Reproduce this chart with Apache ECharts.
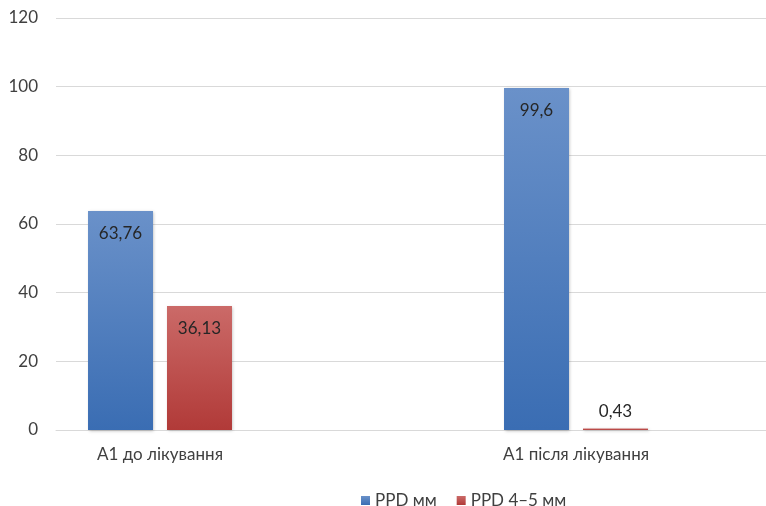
<!DOCTYPE html>
<html>
<head>
<meta charset="utf-8">
<script src="https://cdn.jsdelivr.net/npm/echarts@6/dist/echarts.min.js"></script>
<style>
  html, body { margin: 0; padding: 0; background: #fff; overflow: hidden; width: 766px; height: 506px; }
  /* the chart is wider than the window; its right part falls outside the view */
  #chart { width: 900px; height: 506px; }
</style>
</head>
<body>
<div id="chart"></div>
<script>
// Categories (blank slots hold no data)
const categories = ['A1 до лікування', '', 'A1 після лікування', ''];
const seriesNames = ['PPD мм', 'PPD 4–5 мм'];
const ppdMm = [63.76, null, 99.6, null];
const ppd45Mm = [36.13, null, 0.43, null];
const yTicks = { min: 0, max: 120, interval: 20 };

const FONT = 'Lato, "Noto Sans", sans-serif';

function grad(top, bottom) {
  return new echarts.graphic.LinearGradient(0, 0, 0, 1, [
    { offset: 0, color: top },
    { offset: 1, color: bottom }
  ]);
}

// Value labels sit inside the bar top, or above it when the bar is too short
function withLabels(values) {
  return values.map(v => {
    if (v == null) return null;
    const tiny = v < 5;
    return {
      value: v,
      label: {
        position: tiny ? 'top' : 'insideTop',
        distance: tiny ? 9 : 14
      }
    };
  });
}

const labelFmt = p => String(p.value).replace('.', ',');

const chart = echarts.init(document.getElementById('chart'), null, { renderer: 'canvas' });
chart.setOption({
  animation: false,
  textStyle: { fontFamily: FONT },
  grid: { left: 56, width: 832, top: 18, height: 412 },
  legend: {
    data: seriesNames,
    left: 356,
    top: 487,
    itemWidth: 9,
    itemHeight: 9,
    itemGap: 20,
    icon: 'rect',
    textStyle: { color: '#404040', fontSize: 17, fontFamily: FONT }
  },
  xAxis: {
    type: 'category',
    data: categories,
    axisLine: { lineStyle: { color: '#d9d9d9', width: 1 } },
    axisTick: { show: false },
    axisLabel: { color: '#404040', fontSize: 17, margin: 16, fontFamily: FONT, interval: 0 }
  },
  yAxis: {
    type: 'value',
    min: yTicks.min,
    max: yTicks.max,
    interval: yTicks.interval,
    axisLine: { show: false },
    axisTick: { show: false },
    axisLabel: { color: '#404040', fontSize: 17, margin: 18, fontFamily: FONT },
    splitLine: { lineStyle: { color: '#d9d9d9', width: 1 } }
  },
  series: [
    {
      name: seriesNames[0],
      type: 'bar',
      barWidth: 65,
      barGap: '21.5%',
      data: withLabels(ppdMm),
      itemStyle: {
        color: grad('#6a91c9', '#3a6db3'),
        shadowColor: 'rgba(0,0,0,0.25)',
        shadowBlur: 3,
        shadowOffsetX: 1,
        shadowOffsetY: 1
      },
      label: { show: true, color: '#262626', fontSize: 17, fontFamily: FONT, formatter: labelFmt }
    },
    {
      name: seriesNames[1],
      type: 'bar',
      barWidth: 65,
      data: withLabels(ppd45Mm),
      itemStyle: {
        color: grad('#cb6a68', '#b13a38'),
        shadowColor: 'rgba(0,0,0,0.25)',
        shadowBlur: 3,
        shadowOffsetX: 1,
        shadowOffsetY: 1
      },
      label: { show: true, color: '#262626', fontSize: 17, fontFamily: FONT, formatter: labelFmt }
    }
  ]
});
</script>
</body>
</html>
